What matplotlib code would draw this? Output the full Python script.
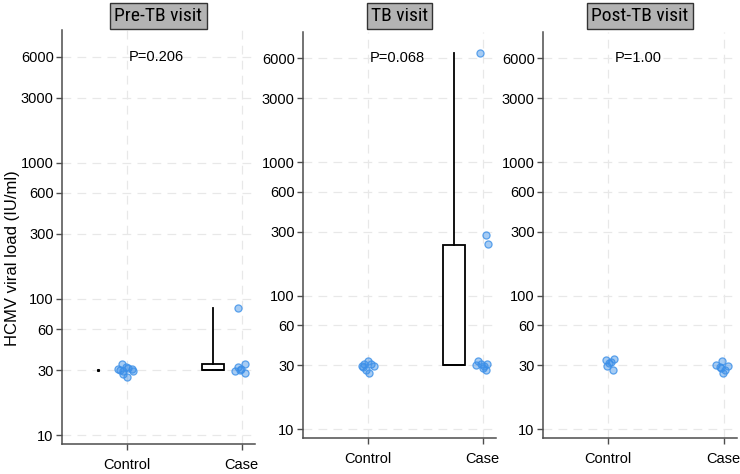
import matplotlib
matplotlib.use("Agg")
import matplotlib.pyplot as plt
from matplotlib import font_manager
import numpy as np

plt.rcParams['font.family'] = ['Liberation Sans', 'DejaVu Sans']

# ---------------- data ----------------
panels = ["Pre-TB visit", "TB visit", "Post-TB visit"]
p_values = ["P=0.206", "P=0.068", "P=1.00"]
categories = ["Control", "Case"]
y_ticks = [10, 30, 60, 100, 300, 600, 1000, 3000, 6000]

# individual viral loads (IU/ml)
pre_control = [33.3, 31.6, 31.1, 30.0, 29.5, 30.4, 29.5, 28.1, 26.6, 30.4]
pre_case = [86, 29.5, 31.6, 30.4, 33.3, 28.4, 29.9]
tb_control = [29.6, 30.7, 32.4, 31.0, 29.6, 27.6, 26.3, 29.0]
tb_case = [6500, 285, 245, 32.4, 31.0, 29.6, 30.7, 28.5, 27.6, 30.2]
post_control = [33.1, 31.5, 33.3, 29.8, 27.6, 31.9]
post_case = [30.2, 29.3, 32.4, 26.3, 29.8, 28.5, 27.6]

# horizontal jitter (category units)
pre_control_jit = [-0.046, -0.011, 0.011, -0.061, -0.032, 0.041, 0.055, -0.037, -0.003, -0.076]
pre_case_jit = [-0.037, -0.055, -0.032, -0.003, 0.032, 0.026, -0.017]
tb_control_jit = [-0.052, -0.032, -0.003, 0.026, 0.049, -0.017, 0.006, -0.046]
tb_case_jit = [-0.026, 0.026, 0.043, -0.046, -0.017, 0.012, 0.041, 0.0, 0.029, -0.061]
post_control_jit = [-0.023, 0.006, 0.049, -0.009, 0.040, 0.020]
post_case_jit = [-0.063, -0.034, -0.017, -0.006, 0.040, -0.026, 0.012]

# box summaries
box_panel = [0, 1]
box_cat = [2, 2]
box_q1 = [30, 30]
box_med = [30, 30]
box_q3 = [33, 240]
box_wlo = [30, 30]
box_whi = [86, 6500]
# degenerate box (all values equal) in Pre-TB control
dot_panel = [0]
dot_cat = [1]
dot_val = [30]

points = [
    [(pre_control, pre_control_jit), (pre_case, pre_case_jit)],
    [(tb_control, tb_control_jit), (tb_case, tb_case_jit)],
    [(post_control, post_control_jit), (post_case, post_case_jit)],
]

# condensed font for the panel strips, if available
def pick_condensed():
    pref = ['Liberation Sans Narrow', 'Noto Sans Condensed', 'DejaVu Sans Condensed',
            'Open Sans Condensed', 'Roboto Condensed', 'Arimo Narrow']
    fl = font_manager.fontManager.ttflist
    for name in pref:
        for f in fl:
            if f.name == name and f.style == 'normal' and f.weight in (400, 'normal', 'regular'):
                return font_manager.FontProperties(fname=f.fname, size=14)
    for f in fl:
        if (f.stretch in ('condensed', 'semi-condensed', 500 - 125, 'narrow')
                or 'Condensed' in f.fname and 'Extra' not in f.fname and 'Semi' not in f.fname) \
                and f.style == 'normal' and f.weight in (400, 'normal', 'regular') \
                and any(k in f.name for k in ('Noto Sans', 'DejaVu Sans', 'Liberation', 'Open Sans', 'Roboto')) \
                and 'CJK' not in f.name and 'Mono' not in f.name:
            return font_manager.FontProperties(fname=f.fname, size=14)
    return font_manager.FontProperties(family='Liberation Sans', size=12.5)

strip_fp = pick_condensed()

# ---------------- layout ----------------
W, H = 740, 474
fig = plt.figure(figsize=(W / 100, H / 100), dpi=100)
# (left, right, top, bottom) in pixels
rects = [(62, 255, 30, 444), (303, 496, 32, 438), (543, 737, 32, 438)]

grid_color = '#e8e8e8'
spine_color = '#4d4d4d'

for i, (l, r, t, b) in enumerate(rects):
    ax = fig.add_axes([l / W, (H - b) / H, (r - l) / W, (b - t) / H])
    ax.set_yscale('log')
    ax.set_ylim(8.6, 9400)
    ax.set_xlim(0.435, 2.115)
    ax.set_yticks(y_ticks)
    ax.set_yticklabels([str(v) for v in y_ticks])
    ax.yaxis.set_minor_locator(matplotlib.ticker.NullLocator())
    ax.set_xticks([1, 2])
    ax.set_xticklabels(categories)
    ax.tick_params(axis='both', labelsize=10.5, color=spine_color, length=4,
                   width=1, pad=2)
    ax.tick_params(axis='x', pad=6)
    for s in ['top', 'right']:
        ax.spines[s].set_visible(False)
    for s in ['left', 'bottom']:
        ax.spines[s].set_color(spine_color)
        ax.spines[s].set_linewidth(1.1)
    ax.grid(True, which='major', color=grid_color, linestyle=(0, (7, 5)),
            linewidth=0.9)
    ax.set_axisbelow(True)

    # boxes
    stats = []
    pos = []
    for k in range(len(box_panel)):
        if box_panel[k] == i:
            stats.append(dict(q1=box_q1[k], med=box_med[k], q3=box_q3[k],
                              whislo=box_wlo[k], whishi=box_whi[k],
                              fliers=[]))
            pos.append(box_cat[k] - 0.25)
    if stats:
        ax.bxp(stats, positions=pos, widths=0.19, showcaps=False,
               patch_artist=True, manage_ticks=False,
               boxprops=dict(facecolor='white', edgecolor='black', linewidth=1.3),
               medianprops=dict(color='black', linewidth=1.3),
               whiskerprops=dict(color='black', linewidth=1.3))
    for k in range(len(dot_panel)):
        if dot_panel[k] == i:
            ax.plot([dot_cat[k] - 0.25], [dot_val[k]], marker='s', ms=1.2,
                    color='black', linestyle='none')

    # jittered points
    for c, (vals, jit) in enumerate(points[i]):
        xs = (c + 1) + np.array(jit)
        ax.scatter(xs, vals, s=26, facecolor=(0.23, 0.56, 0.91, 0.45),
                   edgecolor=(0.23, 0.56, 0.91, 0.8), linewidth=0.9, zorder=3)

    # p-value
    ax.text(0.49, 6000, p_values[i], transform=ax.get_yaxis_transform(),
            ha='center', va='center', fontsize=10.5)

    # panel title strip
    fig.text(((l + r) / 2) / W, 1 - 16 / H, panels[i], ha='center', va='center',
             fontproperties=strip_fp,
             bbox=dict(boxstyle='square,pad=0.22', facecolor='#b3b3b3',
                       edgecolor='#333333', linewidth=1.0))

    if i == 0:
        ax.set_ylabel("HCMV viral load (IU/ml)", fontsize=12)
        ax.yaxis.set_label_coords(-(l - 20) / (r - l), (b - 258) / (b - t))

fig.savefig("out.png", dpi=100)
